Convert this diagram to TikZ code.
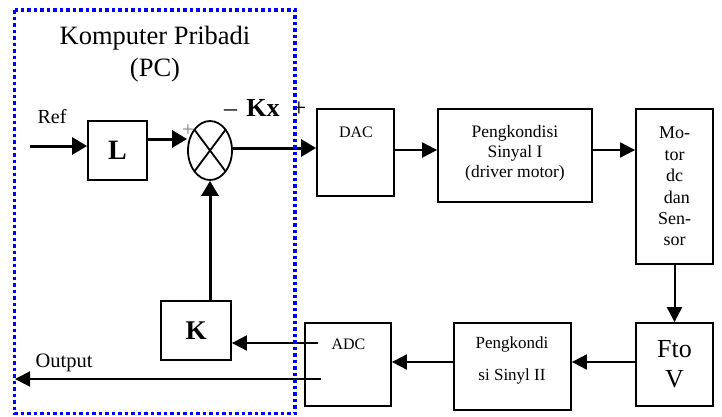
\documentclass[tikz,border=0pt]{standalone}
\usepackage{fontspec}
\setmainfont{Liberation Serif}
\usetikzlibrary{arrows.meta,shapes.geometric}
\definecolor{pcblue}{RGB}{0,0,255}
\begin{document}
\begin{tikzpicture}[x=1pt,y=-1pt,
  box/.style={draw,line width=1.8pt,inner sep=0pt},
  thk/.style={line width=3pt,-{Triangle[length=15pt,width=17pt]}},
  thn/.style={line width=2pt,-{Triangle[length=15pt,width=15pt]}},
  txt/.style={inner sep=0pt,align=center},
  fa/.style={font=\fontsize{16}{19}\selectfont},
  fb/.style={font=\fontsize{20.5}{24}\selectfont},
  fc/.style={font=\fontsize{26.5}{30}\selectfont},
]
\useasboundingbox (0,0) rectangle (722,416);

% blocks
\node[box,minimum width=59pt,minimum height=59pt,font=\fontsize{28}{30}\selectfont\bfseries] (L) at (117.5,150.5) {L};
\node[draw,ellipse,line width=1.8pt,minimum width=44pt,minimum height=59pt,inner sep=0pt] (sum) at (210,150.5) {};
\node[box,minimum width=77pt,minimum height=87pt] (dac) at (355.5,152.5) {};
\node[txt,fa] (dact) at (356,132) {DAC};
\node[box,minimum width=154pt,minimum height=93pt] (p1) at (515,155.5) {};
\node[txt,font=\fontsize{17.5}{20}\selectfont] (p1t) at (515,153) {Pengkondisi\\Sinyal I\\(driver motor)};
\node[box,txt,minimum width=77pt,minimum height=155pt,font=\fontsize{18}{21.4}\selectfont] (motor) at (674.5,186.5) {Mo-\\tor\\dc\\\hspace*{4.5pt}dan\\Sen-\\sor};
\node[box,txt,minimum width=77pt,minimum height=83pt,font=\fontsize{26}{30}\selectfont] (ftov) at (674.5,364.5) {Fto\\V};
\node[box,minimum width=117pt,minimum height=87pt] (p2) at (512.5,366.5) {};
\node[txt,font=\fontsize{17}{32}\selectfont] (p2t) at (512,360) {Pengkondi\\si Sinyl II};
\node[box,minimum width=86pt,minimum height=83pt] (adc) at (348,364.5) {};
\node[txt,fa] (adct) at (348.5,344) {ADC};
\node[box,minimum width=70pt,minimum height=59pt,font=\fontsize{27}{30}\selectfont\bfseries] (K) at (196,330.5) {K};

% texts
\node[txt,fc] (title) at (155,38) {Komputer Pribadi};
\node[txt,fc] (pc) at (155,70) {(PC)};
\node[txt,font=\fontsize{20}{24}\selectfont] (ref) at (52,117) {Ref};
\node[txt,fb] (out) at (64,363) {Output};
\node[anchor=base west,inner sep=0pt,font=\fontsize{26}{30}\selectfont] (kx) at (224,116.5) {–\hspace{9pt}\textbf{Kx}\hspace{12pt}+};
\node[txt,text=gray,font=\fontsize{21}{24}\selectfont] (plus) at (188,131) {+};

% cross in summing junction
\draw[line width=1.8pt] ([shift={(-15.6,-20.9)}]sum.center) -- ([shift={(15.6,20.9)}]sum.center)
  ([shift={(15.6,-20.9)}]sum.center) -- ([shift={(-15.6,20.9)}]sum.center);

% connectors
\coordinate (refin) at (30,146);
\draw[thk] (refin) -- (refin -| L.west);
\draw[thk] (L.east |- 0,139) -- (sum.west |- 0,139);
\draw[thk] (sum.east |- 0,148) -- (dac.west |- 0,148);
\draw[thn] (dac.east |- 0,150) -- (p1.west |- 0,150);
\draw[thn] (p1.east |- 0,150) -- (motor.west |- 0,150);
\draw[thn] (motor.south) -- (ftov.north);
\draw[thn] (ftov.west |- 0,362) -- (p2.east |- 0,362);
\draw[thn] (p2.west |- 0,362) -- (adc.east |- 0,362);
\coordinate (adck) at (318,343);
\draw[thn] (adck) -- (adck -| K.east);
\coordinate (adco) at (321,379);
\coordinate (outend) at (15,379);
\draw[thn] (adco) -- (outend);
\draw[thk] (sum.south |- K.north) -- (sum.south);

% PC boundary
\draw[pcblue,line width=3.5pt,dash pattern=on 3.5pt off 3pt] (14.5,10) rectangle (295,413.5);
\end{tikzpicture}
\end{document}
